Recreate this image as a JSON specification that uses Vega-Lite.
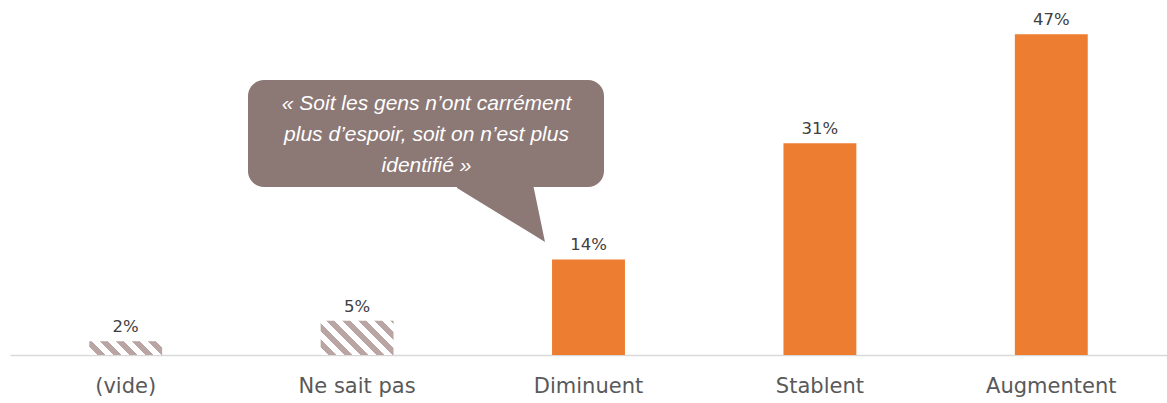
{
  "$schema": "https://vega.github.io/schema/vega-lite/v6.json",
  "width": 1157,
  "height": 355,
  "autosize": {"type": "none"},
  "padding": {"left": 10, "top": 0, "right": 0, "bottom": 48},
  "background": "white",
  "config": {"view": {"stroke": null}},
  "datasets": {
    "bars": [
      {"cat": "(vide)", "value": 2, "label": "2%"},
      {"cat": "Ne sait pas", "value": 5, "label": "5%"},
      {"cat": "Diminuent", "value": 14, "label": "14%"},
      {"cat": "Stablent", "value": 31, "label": "31%"},
      {"cat": "Augmentent", "value": 47, "label": "47%"}
    ],
    "box": [{"x": 1.0285, "x2": 2.567, "y": 40.28, "y2": 24.61}],
    "tail": [
      {"x": 1.9317, "y": 25.0, "y2": 24.46},
      {"x": 2.2602, "y": 25.0, "y2": 17.64},
      {"x": 2.312, "y": 16.55, "y2": 16.55}
    ],
    "quote": [{"x": 1.8, "y": 35.89, "text": ["« Soit les gens n’ont carrément", "plus d’espoir, soit on n’est plus", "identifié »"]}]
  },
  "resolve": {"scale": {"x": "independent"}, "axis": {"x": "independent"}},
  "layer": [
    {
      "data": {"name": "bars"},
      "transform": [{"filter": "datum.value >= 10"}],
      "mark": {"type": "bar", "color": "#ED7D31"},
      "encoding": {
        "x": {"field": "cat", "type": "nominal", "sort": null,
          "scale": {"domain": ["(vide)", "Ne sait pas", "Diminuent", "Stablent", "Augmentent"], "paddingInner": 0.685, "paddingOuter": 0.3425},
          "axis": {"title": null, "ticks": false, "domainColor": "#D9D9D9", "domainWidth": 1.3, "labelAngle": 0,
            "labelFont": "DejaVu Sans", "labelFontSize": 21, "labelColor": "#595959", "labelBaseline": "alphabetic", "labelPadding": 37}},
        "y": {"field": "value", "type": "quantitative", "scale": {"domain": [0, 52]}, "axis": null}
      }
    },
    {
      "data": {"name": "bars"},
      "transform": [{"filter": "datum.value == 2"}],
      "mark": {"type": "bar", "color": {"gradient": "linear", "x1": 0, "y1": 1, "x2": 1.1469, "y2": 0.7855,
        "stops": [
          {"offset": 0, "color": "#ffffff"}, {"offset": 0.0922, "color": "#ffffff"},
          {"offset": 0.0922, "color": "#B8A5A4"}, {"offset": 0.1844, "color": "#B8A5A4"},
          {"offset": 0.1844, "color": "#ffffff"}, {"offset": 0.2766, "color": "#ffffff"},
          {"offset": 0.2766, "color": "#B8A5A4"}, {"offset": 0.3688, "color": "#B8A5A4"},
          {"offset": 0.3688, "color": "#ffffff"}, {"offset": 0.461, "color": "#ffffff"},
          {"offset": 0.461, "color": "#B8A5A4"}, {"offset": 0.5532, "color": "#B8A5A4"},
          {"offset": 0.5532, "color": "#ffffff"}, {"offset": 0.6454, "color": "#ffffff"},
          {"offset": 0.6454, "color": "#B8A5A4"}, {"offset": 0.7376, "color": "#B8A5A4"},
          {"offset": 0.7376, "color": "#ffffff"}, {"offset": 0.8298, "color": "#ffffff"},
          {"offset": 0.8298, "color": "#B8A5A4"}, {"offset": 0.922, "color": "#B8A5A4"},
          {"offset": 0.922, "color": "#ffffff"}, {"offset": 1, "color": "#ffffff"}
        ]}},
      "encoding": {
        "x": {"field": "cat", "type": "nominal", "sort": null,
          "scale": {"domain": ["(vide)", "Ne sait pas", "Diminuent", "Stablent", "Augmentent"], "paddingInner": 0.685, "paddingOuter": 0.3425}, "axis": null},
        "y": {"field": "value", "type": "quantitative", "scale": {"domain": [0, 52]}, "axis": null}
      }
    },
    {
      "data": {"name": "bars"},
      "transform": [{"filter": "datum.value == 5"}],
      "mark": {"type": "bar", "color": {"gradient": "linear", "x1": 0, "y1": 1, "x2": 1.2043, "y2": 0.437,
        "stops": [
          {"offset": 0, "color": "#ffffff"}, {"offset": 0.0746, "color": "#ffffff"},
          {"offset": 0.0746, "color": "#B8A5A4"}, {"offset": 0.1492, "color": "#B8A5A4"},
          {"offset": 0.1492, "color": "#ffffff"}, {"offset": 0.2238, "color": "#ffffff"},
          {"offset": 0.2238, "color": "#B8A5A4"}, {"offset": 0.2984, "color": "#B8A5A4"},
          {"offset": 0.2984, "color": "#ffffff"}, {"offset": 0.373, "color": "#ffffff"},
          {"offset": 0.373, "color": "#B8A5A4"}, {"offset": 0.4476, "color": "#B8A5A4"},
          {"offset": 0.4476, "color": "#ffffff"}, {"offset": 0.5222, "color": "#ffffff"},
          {"offset": 0.5222, "color": "#B8A5A4"}, {"offset": 0.5968, "color": "#B8A5A4"},
          {"offset": 0.5968, "color": "#ffffff"}, {"offset": 0.6714, "color": "#ffffff"},
          {"offset": 0.6714, "color": "#B8A5A4"}, {"offset": 0.746, "color": "#B8A5A4"},
          {"offset": 0.746, "color": "#ffffff"}, {"offset": 0.8206, "color": "#ffffff"},
          {"offset": 0.8206, "color": "#B8A5A4"}, {"offset": 0.8952, "color": "#B8A5A4"},
          {"offset": 0.8952, "color": "#ffffff"}, {"offset": 0.9698, "color": "#ffffff"},
          {"offset": 0.9698, "color": "#B8A5A4"}, {"offset": 1, "color": "#B8A5A4"}
        ]}},
      "encoding": {
        "x": {"field": "cat", "type": "nominal", "sort": null,
          "scale": {"domain": ["(vide)", "Ne sait pas", "Diminuent", "Stablent", "Augmentent"], "paddingInner": 0.685, "paddingOuter": 0.3425}, "axis": null},
        "y": {"field": "value", "type": "quantitative", "scale": {"domain": [0, 52]}, "axis": null}
      }
    },
    {
      "data": {"name": "bars"},
      "mark": {"type": "text", "font": "DejaVu Sans", "fontSize": 16.5, "color": "#404040", "baseline": "alphabetic", "dy": -9},
      "encoding": {
        "x": {"field": "cat", "type": "nominal", "sort": null,
          "scale": {"domain": ["(vide)", "Ne sait pas", "Diminuent", "Stablent", "Augmentent"], "paddingInner": 0.685, "paddingOuter": 0.3425}, "axis": null},
        "y": {"field": "value", "type": "quantitative", "scale": {"domain": [0, 52]}, "axis": null},
        "text": {"field": "label"}
      }
    },
    {
      "data": {"name": "box"},
      "mark": {"type": "rect", "color": "#8C7875", "cornerRadius": 16},
      "encoding": {
        "x": {"field": "x", "type": "quantitative", "scale": {"domain": [0, 5]}, "axis": null},
        "x2": {"field": "x2"},
        "y": {"field": "y", "type": "quantitative", "scale": {"domain": [0, 52]}, "axis": null},
        "y2": {"field": "y2"}
      }
    },
    {
      "data": {"name": "tail"},
      "mark": {"type": "area", "color": "#8C7875", "interpolate": "linear"},
      "encoding": {
        "x": {"field": "x", "type": "quantitative", "scale": {"domain": [0, 5]}, "axis": null},
        "y": {"field": "y", "type": "quantitative", "scale": {"domain": [0, 52]}, "axis": null, "stack": null},
        "y2": {"field": "y2"}
      }
    },
    {
      "data": {"name": "quote"},
      "mark": {"type": "text", "font": "Liberation Sans", "fontStyle": "italic", "fontSize": 21, "color": "#ffffff", "align": "center", "baseline": "alphabetic", "lineHeight": 31},
      "encoding": {
        "x": {"field": "x", "type": "quantitative", "scale": {"domain": [0, 5]}, "axis": null},
        "y": {"field": "y", "type": "quantitative", "scale": {"domain": [0, 52]}, "axis": null},
        "text": {"field": "text"}
      }
    }
  ]
}
